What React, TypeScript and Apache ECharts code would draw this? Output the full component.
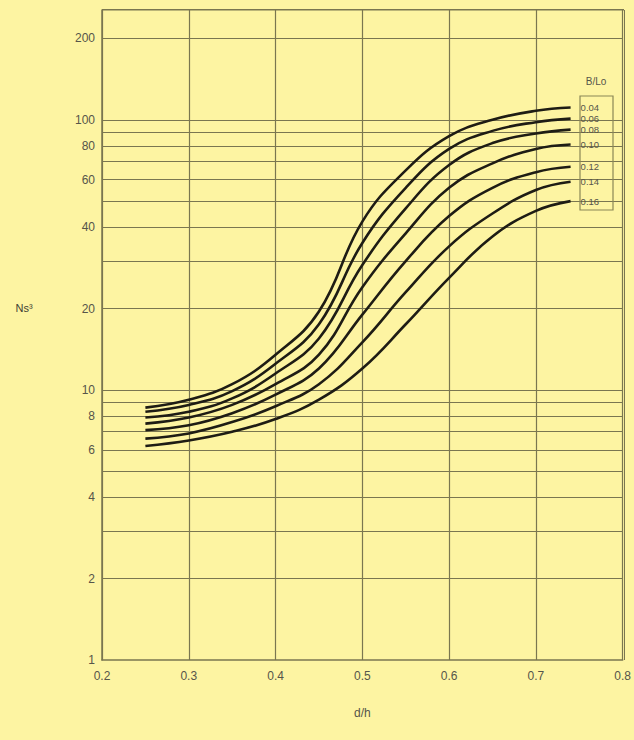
import React, { useEffect, useRef } from "react";
import * as echarts from "echarts";

const dh = [0.25, 0.3, 0.35, 0.4, 0.45, 0.5, 0.55, 0.6, 0.65, 0.7, 0.74];
const seriesNames = ["0.04", "0.06", "0.08", "0.10", "0.12", "0.14", "0.16"];
const ns004 = [8.6, 9.2, 10.5, 13.5, 19.5, 42, 65, 87, 100, 108, 111];
const ns006 = [8.3, 8.8, 9.9, 12.5, 17.5, 35, 56, 78, 91, 98, 101];
const ns008 = [7.9, 8.3, 9.3, 11.5, 15.5, 29, 47, 68, 82, 89, 92];
const ns010 = [7.5, 7.9, 8.8, 10.5, 13.5, 24, 38, 56, 69, 78, 81];
const ns012 = [7.1, 7.4, 8.2, 9.6, 12, 19, 30, 44, 56, 64, 67];
const ns014 = [6.6, 6.9, 7.6, 8.7, 10.5, 15, 23, 34, 45, 55, 59];
const ns016 = [6.2, 6.5, 7.0, 7.8, 9.2, 12, 17.5, 26, 37, 46, 50];
const allSeries = [ns004, ns006, ns008, ns010, ns012, ns014, ns016];

const yLabelValues = [1, 2, 4, 6, 8, 10, 20, 40, 60, 80, 100, 200];
const yGridValues = [2, 3, 4, 5, 6, 7, 8, 9, 10, 20, 30, 40, 50, 60, 70, 80, 90, 100, 200];
const xTicks = [0.2, 0.3, 0.4, 0.5, 0.6, 0.7, 0.8];

const BG = "#fdf4a2";
const GRID = "#7a7650";
const TXT = "#56554a";
const FONT = "Liberation Sans, Arial, sans-serif";

export default function App() {
  const ref = useRef<HTMLDivElement>(null);
  useEffect(() => {
    if (!ref.current) return;
    const chart = echarts.init(ref.current, undefined, { renderer: "svg" });
    const series: any[] = allSeries.map((vals, i) => ({
      name: seriesNames[i],
      type: "line",
      smooth: 0.42,
      showSymbol: false,
      data: dh.map((x, j) => [x, vals[j]]),
      lineStyle: { color: "#1e1c14", width: 2.6 },
      endLabel: {
        show: true,
        formatter: seriesNames[i],
        color: TXT,
        fontSize: 9.5,
        fontFamily: FONT,
        distance: 10,
      },
      z: 5,
    }));
    series.push({
      type: "line",
      data: [],
      silent: true,
      markLine: {
        silent: true,
        symbol: "none",
        label: { show: false },
        lineStyle: { color: GRID, width: 1.2, type: "solid" },
        data: yGridValues.map((v) => ({ yAxis: v })),
      },
    });
    chart.setOption({
      animation: false,
      backgroundColor: BG,
      grid: { left: 102, right: 10, top: 10, bottom: 80 },
      xAxis: {
        type: "value",
        min: 0.2,
        max: 0.8,
        interval: 0.1,
        name: "d/h",
        nameLocation: "middle",
        nameGap: 47,
        nameTextStyle: { color: TXT, fontSize: 12, fontFamily: FONT },
        axisLine: { show: true, lineStyle: { color: GRID, width: 1.5 } },
        axisTick: { show: false },
        axisLabel: {
          color: TXT,
          fontSize: 12,
          margin: 10,
          fontFamily: FONT,
          formatter: (v: number) => (xTicks.some((t) => Math.abs(t - v) < 1e-6) ? v.toFixed(1) : ""),
        },
        splitLine: { show: true, lineStyle: { color: GRID, width: 1.2 } },
      },
      yAxis: {
        type: "log",
        logBase: 10,
        min: 1,
        max: 255,
        axisLine: { show: true, lineStyle: { color: GRID, width: 1.5 } },
        axisTick: { show: false },
        axisLabel: {
          color: TXT,
          fontSize: 12,
          margin: 7,
          fontFamily: FONT,
          customValues: yLabelValues,
          formatter: (v: number) => String(Math.round(v)),
        },
        splitLine: { show: false },
      },
      graphic: [
        {
          type: "text",
          x: 24,
          y: 308,
          style: {
            text: "Ns³",
            fill: "#3f3e34",
            fontSize: 11,
            fontFamily: FONT,
            align: "center",
            verticalAlign: "middle",
          },
        },
        {
          type: "rect",
          shape: { x: 580, y: 96, width: 33, height: 114 },
          style: { fill: "none", stroke: "#8a8656", lineWidth: 1.2 },
          z: 10,
        },
        {
          type: "text",
          x: 596,
          y: 81,
          style: {
            text: "B/Lo",
            fill: TXT,
            fontSize: 10,
            fontFamily: FONT,
            align: "center",
            verticalAlign: "middle",
          },
          z: 10,
        },
        {
          type: "rect",
          shape: { x: 624, y: 10, width: 1, height: 650 },
          style: { fill: GRID },
          z: 10,
        },
        {
          type: "rect",
          shape: { x: 102, y: 9, width: 522, height: 1.5 },
          style: { fill: GRID },
          z: 10,
        },
      ],
      series,
    });
    return () => chart.dispose();
  }, []);
  return (
    <div
      ref={ref}
      style={{ position: "fixed", left: 0, top: 0, width: 634, height: 740, background: BG }}
    />
  );
}
